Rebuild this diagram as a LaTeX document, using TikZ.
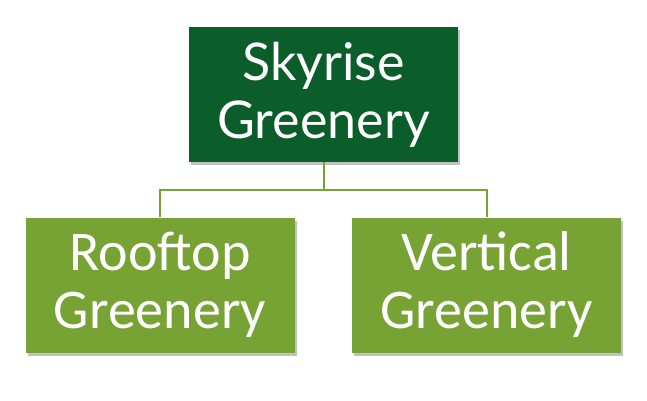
\documentclass[tikz,border=0pt]{standalone}
\usepackage{fontspec}
\setmainfont{Carlito}
\newfontfamily\topfont{Lato}
\usetikzlibrary{shadows}
\definecolor{darkg}{HTML}{0B5E2A}
\definecolor{lightg}{HTML}{77A234}
\tikzset{
  boxbase/.style={rectangle, inner sep=0pt, text=white, align=center,
    minimum width=269pt, minimum height=135pt,
    drop shadow={shadow xshift=2pt, shadow yshift=-3pt, opacity=0.35, fill=black!70}},
  topbox/.style={boxbase, fill=darkg, font=\topfont\fontsize{52}{58}\selectfont},
  botbox/.style={boxbase, fill=lightg, font=\fontsize{56}{58}\selectfont},
  conn/.style={draw=lightg, line width=2pt}
}
\begin{document}
\begin{tikzpicture}[x=1pt,y=-1pt]
\useasboundingbox (0,0) rectangle (647,400);
\node[topbox] (sky) at (323.5,94.5) {Skyrise\\Greenery};
\node[botbox] (roof) at (160,285) {Rooftop\\Greenery};
\node[botbox] (vert) at (486.5,285) {Vertical\\Greenery};
\draw[conn] (sky.south) -- ++(0,28) -| (roof.north);
\draw[conn] (sky.south) -- ++(0,28) -| (vert.north);
\end{tikzpicture}
\end{document}
